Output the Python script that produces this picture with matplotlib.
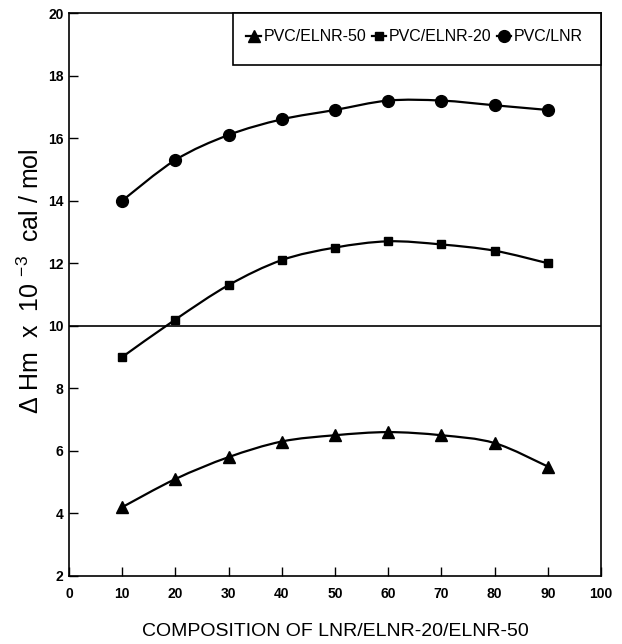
import numpy as np
import matplotlib
matplotlib.use("Agg")
import matplotlib.pyplot as plt
from matplotlib.path import Path
from matplotlib.patches import PathPatch, Rectangle
from matplotlib.lines import Line2D

plt.rcParams["font.family"] = ["Liberation Sans", "DejaVu Sans"]
plt.rcParams["mathtext.fontset"] = "custom"
plt.rcParams["mathtext.rm"] = "Liberation Sans"
plt.rcParams["mathtext.it"] = "Liberation Sans"
plt.rcParams["mathtext.bf"] = "Liberation Sans:bold"

# Composition (wt %) and heat of mixing values
composition = [10, 20, 30, 40, 50, 60, 70, 80, 90]
elnr50 = [4.2, 5.1, 5.8, 6.3, 6.5, 6.6, 6.5, 6.25, 5.5]
elnr20 = [9.0, 10.2, 11.3, 12.1, 12.5, 12.7, 12.6, 12.4, 12.0]
lnr = [14.0, 15.3, 16.1, 16.6, 16.9, 17.2, 17.2, 17.05, 16.9]

series_labels = ["PVC/ELNR-50", "PVC/ELNR-20", "PVC/LNR"]
series_markers = ["^", "s", "o"]
series_sizes = [8, 5.5, 8.5]

x_ticks = [0, 10, 20, 30, 40, 50, 60, 70, 80, 90, 100]
y_ticks = [2, 4, 6, 8, 10, 12, 14, 16, 18, 20]


def smooth_path(xs, ys):
    """Cardinal (Catmull-Rom) curve through the points as cubic Bezier segments."""
    pts = np.column_stack([xs, ys]).astype(float)
    n = len(pts)
    verts = [pts[0]]
    codes = [Path.MOVETO]
    for i in range(n - 1):
        p0 = pts[i - 1] if i > 0 else pts[i]
        p1 = pts[i]
        p2 = pts[i + 1]
        p3 = pts[i + 2] if i + 2 < n else pts[i + 1]
        c1 = p1 + (p2 - p0) / 6.0
        c2 = p2 - (p3 - p1) / 6.0
        verts += [c1, c2, p2]
        codes += [Path.CURVE4] * 3
    return Path(verts, codes)


fig = plt.figure(figsize=(6.22, 6.44), dpi=100)
ax = fig.add_axes([0.1109, 0.1056, 0.8553, 0.8742])

handles = []
for ys, lab, mk, ms in zip([elnr50, elnr20, lnr], series_labels,
                           series_markers, series_sizes):
    ax.add_patch(PathPatch(smooth_path(composition, ys), facecolor="none",
                           edgecolor="black", lw=1.6, zorder=2))
    ax.plot(composition, ys, linestyle="none", marker=mk, ms=ms,
            color="black", zorder=3)
    handles.append(Line2D([], [], color="black", lw=1.6, marker=mk, ms=ms,
                          label=lab))

ax.axhline(10, color="black", lw=1.2, zorder=1)

ax.set_xlim(0, 100)
ax.set_ylim(2, 20)
ax.set_xticks(x_ticks)
ax.set_yticks(y_ticks)
ax.tick_params(axis="both", direction="in", length=6.5, width=1,
               labelsize=10)
ax.tick_params(axis="x", pad=8)
ax.tick_params(axis="y", pad=4)
for lbl in ax.get_xticklabels() + ax.get_yticklabels():
    lbl.set_fontweight("bold")
for sp in ax.spines.values():
    sp.set_linewidth(1.2)

ax.set_xlabel("COMPOSITION OF LNR/ELNR-20/ELNR-50", fontsize=14)
ax.xaxis.set_label_coords(0.5, -0.083)
ax.set_ylabel(r"Δ Hm  x  10 $^{-3}$  cal / mol", fontsize=18)
ax.yaxis.set_label_coords(-0.047, 0.524)

# Legend box in the upper right corner
ax.add_patch(Rectangle((0.308, 0.9076), 0.692, 0.0924, transform=ax.transAxes,
                       facecolor="white", edgecolor="black", lw=1.2,
                       zorder=4, clip_on=False))
leg = ax.legend(handles=handles, loc="center", bbox_to_anchor=(0.65, 0.958),
                ncol=3, frameon=False, fontsize=11.5, handlelength=0.9,
                handletextpad=0.2, columnspacing=0.3, borderpad=0.2)
leg.set_zorder(5)

fig.savefig("out.png", dpi=100)
